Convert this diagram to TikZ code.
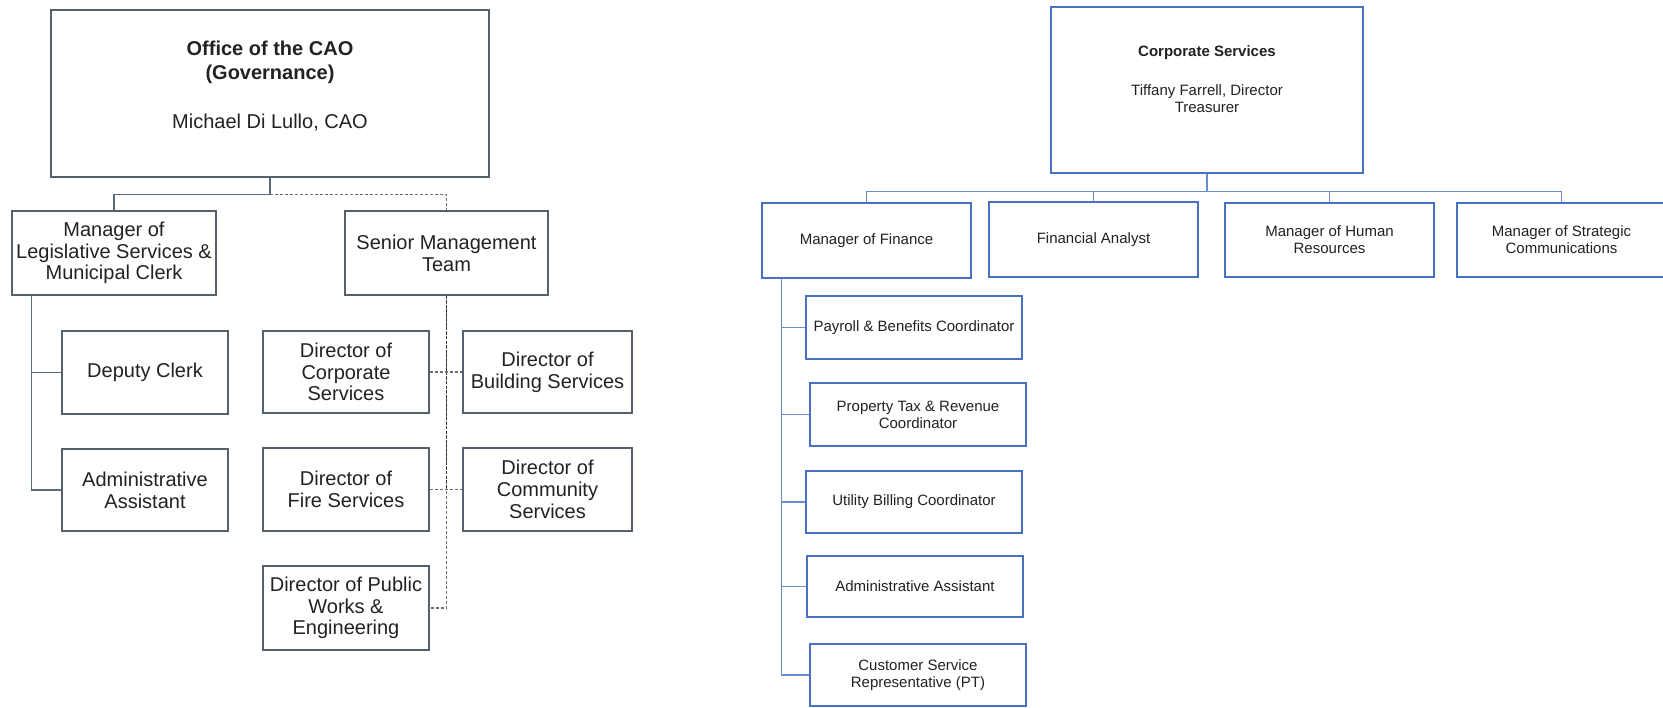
\documentclass[tikz,border=0pt]{standalone}
\usepackage{fontspec}
\setmainfont{Liberation Sans}
\usetikzlibrary{calc}
\definecolor{lbord}{HTML}{56606B}
\definecolor{lline}{HTML}{5B6A7E}
\definecolor{ldash}{HTML}{707070}
\definecolor{rblue}{HTML}{4A72C4}
\definecolor{rline}{HTML}{6A8CD0}
\definecolor{txt}{HTML}{222222}
\begin{document}
\begin{tikzpicture}[x=1pt,y=-1pt,
  lbox/.style={draw=lbord, line width=1.4pt, fill=white, inner sep=0pt, align=center,
    font=\fontsize{20}{21.7}\selectfont, text=txt},
  rbox/.style={draw=rblue, line width=1.3pt, fill=white, inner sep=0pt, align=center,
    font=\fontsize{15}{17}\selectfont, text=txt},
  ltext/.style={inner sep=0pt, align=center, text=txt, font=\fontsize{20}{24}\selectfont},
  rtext/.style={inner sep=0pt, align=center, text=txt, font=\fontsize{15}{16.7}\selectfont},
  lconn/.style={draw=lline, line width=1.4pt},
  ldsh/.style={draw=ldash, line width=1.4pt, dash pattern=on 3pt off 2pt},
  ldshdark/.style={draw=black!80, line width=1.8pt, dash pattern=on 3pt off 1.5pt},
  rconn/.style={draw=rline, line width=1.3pt}]
\useasboundingbox (0,0) rectangle (1663,707);
\fill[white] (0,0) rectangle (1663,707);

% ---------------- left chart ----------------
\node[lbox, minimum width=438pt, minimum height=167pt] (cao) at (270,93.5) {};
\node[ltext] (caot) at (270,86) {\textbf{Office of the CAO}\\\textbf{(Governance)}\\[25pt]Michael Di Lullo, CAO};

\node[lbox, minimum width=204pt, minimum height=84pt] (mgr) at (114,253) {Manager of\\Legislative Services \&\\Municipal Clerk};
\node[lbox, minimum width=203pt, minimum height=84pt] (smt) at (446.5,253) {Senior Management\\Team};

\node[lbox, minimum width=166pt, minimum height=83pt] (deputy) at (145,372.5) {Deputy Clerk};
\node[lbox, minimum width=166pt, minimum height=82pt] (admin) at (145,490) {Administrative\\Assistant};

\node[lbox, minimum width=166pt, minimum height=82pt] (dcorp) at (346,372) {Director of\\Corporate\\Services};
\node[lbox, minimum width=169pt, minimum height=82pt] (dbuild) at (547.5,372) {Director of\\Building Services};
\node[lbox, minimum width=166pt, minimum height=83pt] (dfire) at (346,489.5) {Director of\\Fire Services};
\node[lbox, minimum width=169pt, minimum height=83pt] (dcomm) at (547.5,489.5) {Director of\\Community\\Services};
\node[lbox, minimum width=166pt, minimum height=84pt] (dpw) at (346,608) {Director of Public\\Works \&\\Engineering};

\coordinate (bj) at ($(cao.south)+(0,17)$);
\draw[lconn] (cao.south) -- (bj) -| (mgr.north);
\draw[ldsh] (bj) -| (smt.north);
\coordinate (mv) at ($(mgr.south west)+(20,0)$);
\draw[lconn] (mv) |- (deputy.west);
\draw[lconn] (mv) |- (admin.west);
\draw[ldsh] (smt.south) |- (dpw.east);
\draw[ldshdark] (smt.south) -- (smt.south |- dfire.east);
\draw[ldsh] (dcorp.east) -- (dbuild.west);
\draw[ldsh] (dfire.east) -- (dcomm.west);

% ---------------- right chart ----------------
\node[rbox, minimum width=312pt, minimum height=166pt] (cs) at (1207,90) {};
\node[rtext] (cst) at (1207,79) {\textbf{Corporate Services}\\[22pt]Tiffany Farrell, Director\\Treasurer};

\node[rbox, minimum width=209pt, minimum height=75pt] (mf) at (866.5,240.5) {Manager of Finance};
\node[rbox, minimum width=209pt, minimum height=75pt] (fa) at (1093.5,239.5) {Financial Analyst};
\node[rbox, minimum width=209pt, minimum height=74pt] (hr) at (1329.5,240) {Manager of Human\\Resources};
\node[rbox, minimum width=209pt, minimum height=74pt] (sc) at (1561.5,240) {Manager of Strategic\\Communications};

\node[rbox, minimum width=216pt, minimum height=63pt] (pay) at (914,327.5) {Payroll \& Benefits Coordinator};
\node[rbox, minimum width=216pt, minimum height=63pt] (ptax) at (918,414.5) {Property Tax \& Revenue\\Coordinator};
\node[rbox, minimum width=216pt, minimum height=62pt] (util) at (914,502) {Utility Billing Coordinator};
\node[rbox, minimum width=216pt, minimum height=61pt] (aa) at (915,586.5) {Administrative Assistant};
\node[rbox, minimum width=216pt, minimum height=62pt] (csr) at (918,675) {Customer Service\\Representative (PT)};

\coordinate (rb) at ($(cs.south)+(0,18)$);
\draw[rconn] (cs.south) -- (rb);
\draw[rconn] (rb) -| (mf.north);
\draw[rconn] (rb) -| (fa.north);
\draw[rconn] (rb) -| (hr.north);
\draw[rconn] (rb) -| (sc.north);
\coordinate (fv) at ($(mf.south west)+(20,0)$);
\draw[rconn] (fv) |- (pay.west);
\draw[rconn] (fv) |- (ptax.west);
\draw[rconn] (fv) |- (util.west);
\draw[rconn] (fv) |- (aa.west);
\draw[rconn] (fv) |- (csr.west);
\end{tikzpicture}
\end{document}
